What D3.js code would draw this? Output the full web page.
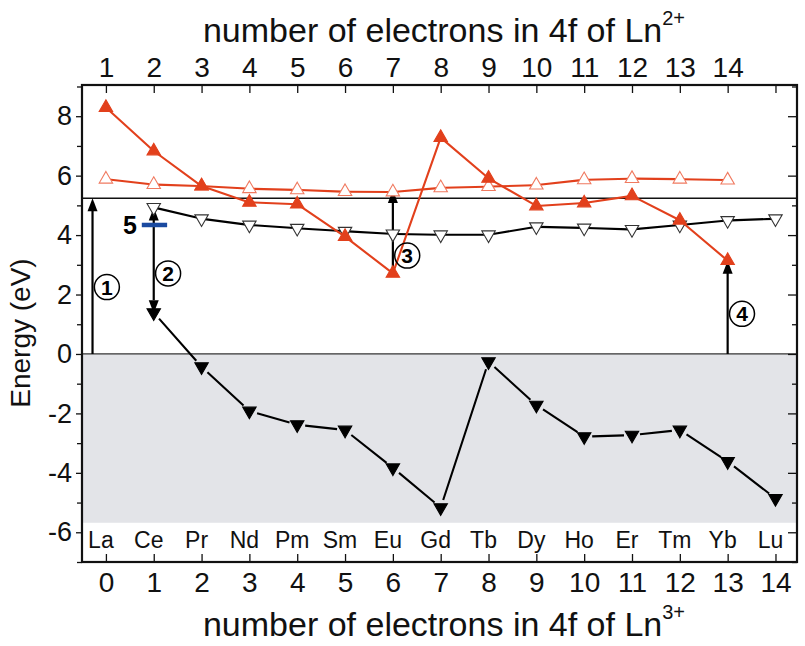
<!DOCTYPE html>
<html><head><meta charset="utf-8">
<script src="https://cdn.jsdelivr.net/npm/d3@7"></script>
<style>body{margin:0;background:#fff}svg{display:block}svg text{font-family:"Liberation Sans",Arial,sans-serif}</style>
</head><body><svg id="c" width="805" height="646"></svg>
<script>
// ---- data ----
const elements = ["La","Ce","Pr","Nd","Pm","Sm","Eu","Gd","Tb","Dy","Ho","Er","Tm","Yb","Lu"];
const ln3Electrons = [0,1,2,3,4,5,6,7,8,9,10,11,12,13,14];
const ln2Labels = ["1","2","3","4","5","6","7","8","9","10","11","12","13","14"];
const yTicks = [-7,-6,-5,-4,-3,-2,-1,0,1,2,3,4,5,6,7,8,9];
const redX = [0,1,2,3,4,5,6,7,8,9,10,11,12,13];
const redFilled = [8.29,6.83,5.65,5.10,5.04,3.95,2.71,7.28,5.91,4.98,5.08,5.32,4.50,3.14];
const redOpen = [5.88,5.70,5.65,5.56,5.52,5.46,5.45,5.59,5.63,5.68,5.86,5.90,5.88,5.85];
const blackX = [1,2,3,4,5,6,7,8,9,10,11,12,13,14];
const blackOpen = [4.93,4.55,4.34,4.23,4.13,4.04,4.01,4.01,4.28,4.24,4.19,4.34,4.49,4.55];
const blackFilled = [1.39,-0.43,-1.92,-2.38,-2.56,-3.83,-5.17,-0.26,-1.72,-2.78,-2.73,-2.56,-3.62,-4.86];
const bandEdge = 5.24;
const valenceBand = [0,-5.68];
const arrowX = [-0.28,1,6,13];
const arrowFrom = [0,1.37,2.71,0];
const arrowTo = [5.24,4.93,5.52,3.14];
const arrowDouble = [false,true,false,false];
const circLabelX = [0.02,1.3,6.3,13.3];
const circLabelY = [2.25,2.71,3.31,1.35];
const circLabelText = ["1","2","3","4"];
const level5X = [0.75,1.28];
const level5Y = 4.34;

// ---- layout ----
const L=82,R=797,T=85,B=562;
const svg=d3.select("#c");
const x=d3.scaleLinear().domain([-0.5,14.45]).range([L,R]);
const y=d3.scaleLinear().domain([-7,9.05]).range([B,T]);
const RED="#e2401c", REDL="#f07a60";
const FONT="Liberation Sans, Arial, sans-serif";

// valence band
svg.append("rect").attr("x",L).attr("width",R-L)
  .attr("y",y(valenceBand[0])).attr("height",y(valenceBand[1])-y(valenceBand[0]))
  .attr("fill","#e3e4e8");
svg.append("line").attr("x1",L).attr("x2",R).attr("y1",y(0)).attr("y2",y(0))
  .attr("stroke","#333").attr("stroke-width",1.2);
// conduction band edge
svg.append("line").attr("x1",L).attr("x2",R).attr("y1",y(bandEdge)).attr("y2",y(bandEdge))
  .attr("stroke","#111").attr("stroke-width",1.6);

// element labels
svg.append("g").selectAll("text").data(elements).join("text")
  .attr("x",(d,i)=>x(ln3Electrons[i])-5).attr("y",548)
  .attr("text-anchor","middle").attr("font-size",23).attr("fill","#111").text(d=>d);

// axes
const fmt=d=> (d%2===0? String(d):"");
const gl=svg.append("g").attr("transform",`translate(${L},0)`)
  .call(d3.axisLeft(y).tickValues(yTicks).tickFormat(fmt).tickSize(6).tickPadding(4));
gl.selectAll("text").attr("font-size",27);
const gr=svg.append("g").attr("transform",`translate(${R},0)`)
  .call(d3.axisLeft(y).tickValues(yTicks).tickFormat("").tickSizeInner(-7).tickSizeOuter(0));
gr.selectAll(".tick line").attr("x2",d=>d%2===0?-9:-5);
gl.selectAll(".tick line").attr("x2",d=>d%2===0?-6:-5);
const gb=svg.append("g").attr("transform",`translate(0,${B})`)
  .call(d3.axisBottom(x).tickValues(ln3Electrons).tickSizeInner(-8).tickSizeOuter(0).tickPadding(5));
gb.selectAll("text").attr("font-size",28).attr("dy","0.9em");
const gt=svg.append("g").attr("transform",`translate(0,${T})`)
  .call(d3.axisTop(x).tickValues(ln3Electrons).tickSizeInner(-8).tickSizeOuter(0).tickPadding(8)
  .tickFormat((d,i)=> i<ln2Labels.length? ln2Labels[i]:""));
gt.selectAll("text").attr("font-size",28);
[gl,gr,gb,gt].forEach(g=>{
  g.attr("font-family",FONT);
  g.selectAll("text").attr("fill","#111");
  g.selectAll(".tick line").attr("stroke","#111").attr("stroke-width",1.3);
  g.select(".domain").remove();
});

// frame
svg.append("rect").attr("x",L).attr("y",T).attr("width",R-L).attr("height",B-T)
  .attr("fill","none").attr("stroke","#111").attr("stroke-width",2.2);

// arrows
const arrows=svg.append("g");
arrowX.forEach((ax,i)=>{
  const px=x(ax), y0=y(arrowFrom[i]), y1=y(arrowTo[i]);
  const hl=13, hw=5;
  const a=arrowDouble[i]? y0-hl : y0;
  arrows.append("line").attr("x1",px).attr("x2",px).attr("y1",a).attr("y2",y1+hl-1)
    .attr("stroke","#000").attr("stroke-width",2.2);
  arrows.append("path").attr("d",`M${px},${y1}L${px-hw},${y1+hl}L${px+hw},${y1+hl}Z`).attr("fill","#000");
  if(arrowDouble[i]) arrows.append("path").attr("d",`M${px},${y0}L${px-hw},${y0-hl}L${px+hw},${y0-hl}Z`).attr("fill","#000");
});

// series
function segs(xs,vs,gap){
  const out=[];
  for(let i=0;i<xs.length-1;i++){
    const x1=x(xs[i]),y1=y(vs[i]),x2=x(xs[i+1]),y2=y(vs[i+1]);
    const dx=x2-x1,dy=y2-y1,l=Math.hypot(dx,dy),g=Math.min(gap,l/2.5);
    out.push(`M${x1+dx*g/l},${y1+dy*g/l}L${x2-dx*g/l},${y2-dy*g/l}`);
  }
  return out.join("");
}
const tri=d3.symbol().type(d3.symbolTriangle).size(78)();
function series(xs,vs,lineColor,gap,fill,stroke,down){
  const g=svg.append("g");
  g.append("path").attr("d",segs(xs,vs,gap)).attr("fill","none").attr("stroke",lineColor).attr("stroke-width",2.1);
  g.selectAll("path.m").data(vs).join("path").attr("class","m").attr("d",tri)
    .attr("transform",(d,i)=>`translate(${x(xs[i])},${y(d)})${down?" rotate(180)":""}`)
    .attr("fill",fill).attr("stroke",stroke).attr("stroke-width",1.1);
}
series(blackX,blackFilled,"#000",8,"#000","#000",true);
series(blackX,blackOpen,"#000",3,"#fff","#333",true);
series(redX,redOpen,RED,3,"#fff",REDL,false);
series(redX,redFilled,RED,0,RED,RED,false);

// circled labels
circLabelX.forEach((cx,i)=>{
  const g=svg.append("g").attr("transform",`translate(${x(cx)},${y(circLabelY[i])})`);
  g.append("circle").attr("r",12.5).attr("fill","none").attr("stroke","#000").attr("stroke-width",1.5);
  g.append("text").attr("text-anchor","middle").attr("dy","0.36em").attr("font-size",21)
    .attr("font-weight","bold").text(circLabelText[i]);
});

// level 5
svg.append("line").attr("x1",x(level5X[0])).attr("x2",x(level5X[1])).attr("y1",y(level5Y)).attr("y2",y(level5Y))
  .attr("stroke","#1a4aa0").attr("stroke-width",4.5);
svg.append("text").attr("x",x(level5X[0])-5).attr("y",y(level5Y)).attr("dy","0.36em")
  .attr("text-anchor","end").attr("font-size",25).attr("font-weight","bold").text("5");

// titles
const tb=svg.append("text").attr("x",444).attr("y",636).attr("text-anchor","middle").attr("font-size",34).attr("fill","#111");
tb.append("tspan").text("number of electrons in 4f of Ln");
tb.append("tspan").attr("font-size",20).attr("dy",-17).text("3+");
const tt=svg.append("text").attr("x",444).attr("y",42).attr("text-anchor","middle").attr("font-size",34).attr("fill","#111");
tt.append("tspan").text("number of electrons in 4f of Ln");
tt.append("tspan").attr("font-size",20).attr("dy",-17).text("2+");
svg.append("text").attr("transform","translate(30,333) rotate(-90)").attr("text-anchor","middle")
  .attr("font-size",28).attr("fill","#111").text("Energy (eV)");
</script></body></html>
